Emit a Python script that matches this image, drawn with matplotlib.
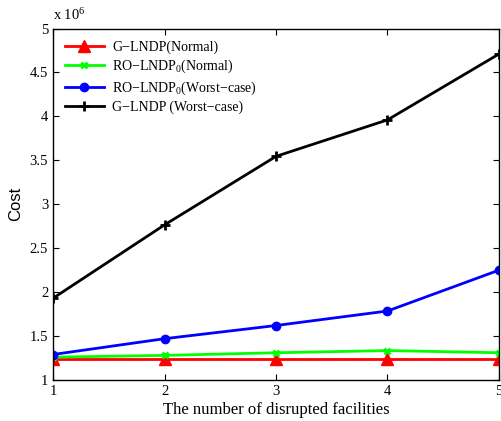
import matplotlib.pyplot as plt

plt.rcParams['font.family'] = ['Liberation Serif', 'DejaVu Serif']
plt.rcParams['mathtext.fontset'] = 'custom'
plt.rcParams['mathtext.rm'] = 'Liberation Serif'
plt.rcParams['mathtext.it'] = 'Liberation Serif'

# number of disrupted facilities
n_disrupted = [1, 2, 3, 4, 5]
# cost, in units of 10^6
g_normal = [1.235, 1.235, 1.235, 1.235, 1.235]
ro_normal = [1.26, 1.28, 1.31, 1.335, 1.31]
ro_worst = [1.29, 1.47, 1.62, 1.785, 2.25]
g_worst = [1.93, 2.765, 3.545, 3.96, 4.71]
labels = ['G\u2212LNDP(Normal)', 'RO\u2212LNDP$_0$(Normal)',
          'RO\u2212LNDP$_0$(Worst\u2212case)', 'G\u2212LNDP (Worst\u2212case)']

fig = plt.figure(figsize=(5.02, 4.21), dpi=100)
ax = fig.add_axes([0.1056, 0.0974, 0.8884, 0.8349])

ax.plot(n_disrupted, g_normal, color='#ff0000', lw=2, marker='^', ms=9, label=labels[0])
ax.plot(n_disrupted, ro_normal, color='#00ff00', lw=2, marker='x', ms=5, mew=2, label=labels[1])
ax.plot(n_disrupted, ro_worst, color='#0000ff', lw=2, marker='o', ms=6, label=labels[2])
ax.plot(n_disrupted, g_worst, color='black', lw=2, marker='+', ms=7, mew=2, label=labels[3])

ax.set_xlim(1, 5)
ax.set_ylim(1, 5)
ax.set_xticks([1, 2, 3, 4, 5])
ax.set_yticks([1, 1.5, 2, 2.5, 3, 3.5, 4, 4.5, 5])
ax.set_yticklabels(['1', '1.5', '2', '2.5', '3', '3.5', '4', '4.5', '5'])
ax.tick_params(direction='in', top=True, right=True, labelsize=10.5, length=4, width=0.8)
for s in ax.spines.values():
    s.set_linewidth(1)

ax.set_xlabel('The number of disrupted facilities', fontsize=12, labelpad=3)
ax.set_ylabel('Cost', fontsize=12, family=['Liberation Sans', 'DejaVu Sans'], labelpad=5)
ax.text(0, 1.015, r'x $10^{6}$', transform=ax.transAxes, fontsize=10.5, ha='left', va='bottom')

ax.legend(loc='upper left', bbox_to_anchor=(0.005, 0.994), frameon=False, fontsize=10,
          handlelength=2.8, borderaxespad=0.3, labelspacing=0.3, handletextpad=0.6)

fig.savefig('out.png', dpi=100)
